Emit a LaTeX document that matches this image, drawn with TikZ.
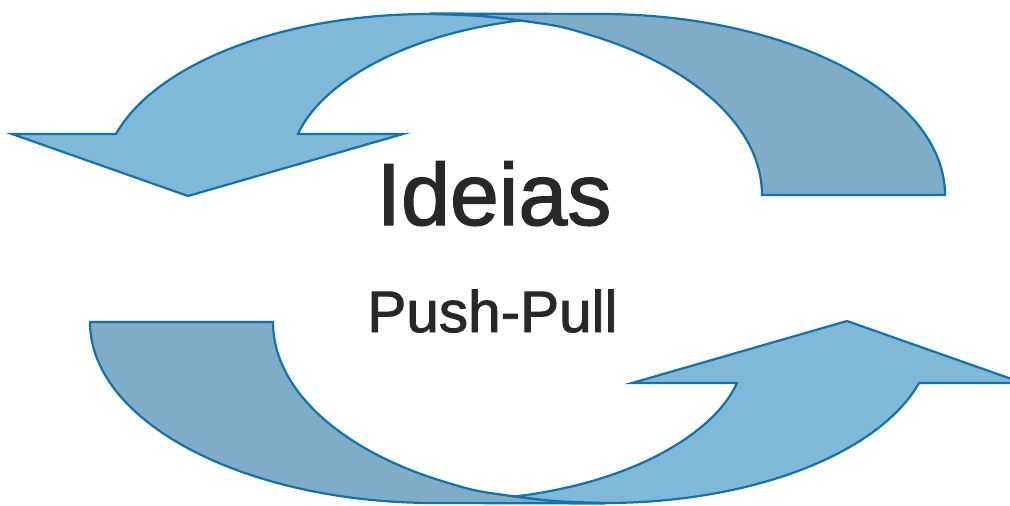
\documentclass[tikz,border=0pt]{standalone}
\usepackage{fontspec}
\setmainfont{Liberation Sans}
\newfontfamily\heavysans[FakeBold=1.6]{Liberation Sans}
\definecolor{lightblue}{RGB}{128,185,216}
\definecolor{darkblue}{RGB}{127,173,200}
\definecolor{edgeblue}{RGB}{16,115,175}
\definecolor{txtgray}{RGB}{40,40,40}
\tikzset{
  lightpart/.style={fill=lightblue, draw=edgeblue, line width=2.2pt, line join=miter},
  darkpart/.style={fill=darkblue, draw=edgeblue, line width=2.2pt, line join=miter},
  bigtxt/.style={text=txtgray, inner sep=0pt, anchor=base, font=\heavysans\fontsize{88}{100}\selectfont},
  smalltxt/.style={text=txtgray, inner sep=0pt, anchor=base, font=\heavysans\fontsize{58.5}{70}\selectfont}
}
\newcommand{\cyclearrow}{%
  \path[darkpart] (430,13.5) -- (600,14)
    .. controls (790,14) and (945,95) .. (945,195)
    -- (762,195)
    .. controls (762,125) and (690,65) .. (590,35)
    .. controls (560,26) .. (520,20.5)
    .. controls (480,15.5) .. (430,13.5)
    -- cycle;
  \path[lightpart] (116,134) -- (12,134) -- (188,196) -- (403,134) -- (298,134)
    .. controls (320,85) and (400,35) .. (520,20.5)
    .. controls (480,15.5) .. (430,14)
    .. controls (280,14) and (155,65) .. (116,134)
    -- cycle;
}
\begin{document}
\begin{tikzpicture}[x=1pt,y=-1pt]
\useasboundingbox (0,0) rectangle (1010,506);
\begin{scope}
\cyclearrow
\end{scope}
\begin{scope}[rotate around={180:(517.5,258.5)}]
\cyclearrow
\end{scope}
\node[bigtxt] (ideias) at (494,225) {Ideias};
\node[smalltxt] (pushpull) at (492.5,332) {Push-Pull};
\end{tikzpicture}
\end{document}
